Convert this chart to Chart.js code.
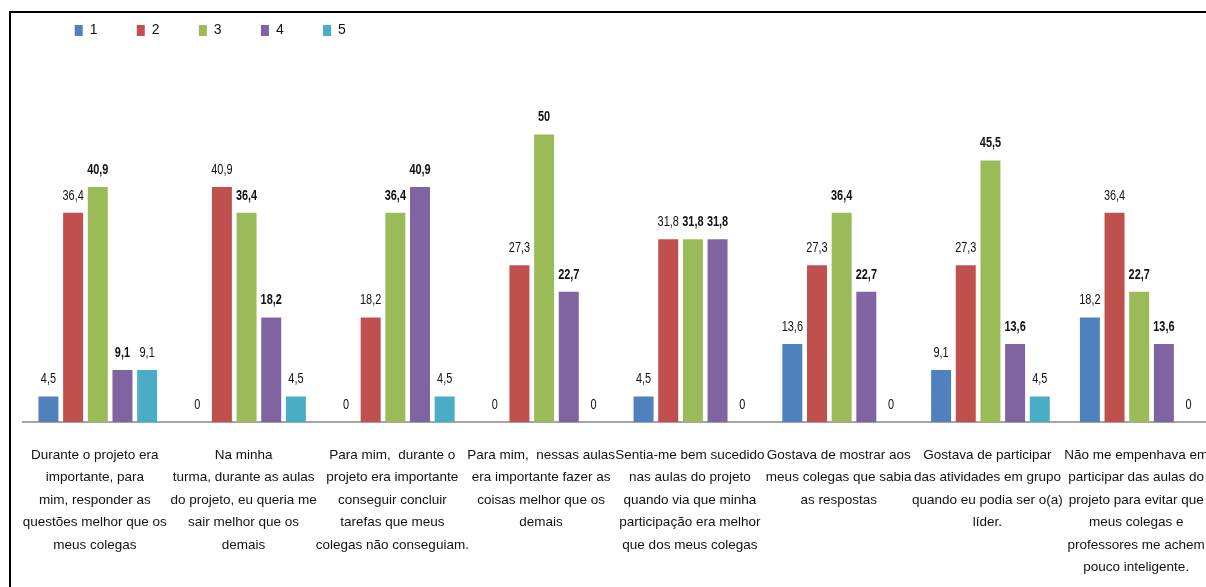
<!DOCTYPE html>
<html>
<head>
<meta charset="utf-8">
<script src="https://cdn.jsdelivr.net/npm/chart.js@4.4.1/dist/chart.umd.min.js"></script>
<style>
  html, body { margin: 0; padding: 0; background: #ffffff; overflow: hidden; width: 1206px; height: 587px; }
  #frame { position: absolute; left: 9px; top: 11px; width: 1400px; height: 800px; border-left: 2px solid #000; border-top: 2px solid #000; }
  #c { position: absolute; left: 0; top: 0; }
</style>
</head>
<body>
<div id="frame"></div>
<canvas id="c" width="1230" height="587"></canvas>
<script>
const categories = [
  ["Durante o projeto era", "importante, para", "mim, responder as", "questões melhor que os", "meus colegas"],
  ["Na minha", "turma, durante as aulas", "do projeto, eu queria me", "sair melhor que os", "demais"],
  ["Para mim,  durante o", "projeto era importante", "conseguir concluir", "tarefas que meus", "colegas não conseguiam."],
  ["Para mim,  nessas aulas", "era importante fazer as", "coisas melhor que os", "demais"],
  ["Sentia-me bem sucedido", "nas aulas do projeto", "quando via que minha", "participação era melhor", "que dos meus colegas"],
  ["Gostava de mostrar aos", "meus colegas que sabia", "as respostas"],
  ["Gostava de participar", "das atividades em grupo", "quando eu podia ser o(a)", "líder."],
  ["Não me empenhava em", "participar das aulas do", "projeto para evitar que", "meus colegas e", "professores me achem", "pouco inteligente."]
];
const seriesNames = ["1", "2", "3", "4", "5"];
const series1 = [4.5, 0, 0, 0, 4.5, 13.6, 9.1, 18.2];
const series2 = [36.4, 40.9, 18.2, 27.3, 31.8, 27.3, 27.3, 36.4];
const series3 = [40.9, 36.4, 36.4, 50, 31.8, 36.4, 45.5, 22.7];
const series4 = [9.1, 18.2, 40.9, 22.7, 31.8, 22.7, 13.6, 13.6];
const series5 = [9.1, 4.5, 4.5, 0, 0, 0, 4.5, 0];
const seriesColors = ["#4F81BD", "#C0504D", "#9BBB59", "#8064A2", "#4BACC6"];
const labelWeights = ["normal", "normal", "bold", "bold", "normal"];

const FONT = "'Liberation Sans', Arial, sans-serif";
const allSeries = [series1, series2, series3, series4, series5];

const valueLabels = {
  id: 'valueLabels',
  afterDatasetsDraw(chart) {
    const ctx = chart.ctx;
    const sx = 0.78;
    chart.data.datasets.forEach((ds, di) => {
      const meta = chart.getDatasetMeta(di);
      meta.data.forEach((bar, i) => {
        const v = ds.data[i];
        const txt = String(v).replace('.', ',');
        ctx.save();
        ctx.font = labelWeights[di] + ' 14px ' + FONT;
        ctx.textAlign = 'center';
        ctx.textBaseline = 'middle';
        ctx.fillStyle = '#111111';
        ctx.translate(bar.x, bar.y - 17);
        ctx.scale(sx, 1);
        ctx.fillText(txt, 0, 0);
        ctx.restore();
      });
    });
  }
};

const legendPlacer = {
  id: 'legendPlacer',
  afterLayout(chart) {
    const lg = chart.legend;
    if (!lg) return;
    const pad = lg.options.labels.padding;
    lg.left = 74.7 - pad;
    lg.top = 23.5 - pad;
  }
};

new Chart(document.getElementById('c'), {
  type: 'bar',
  data: {
    labels: categories,
    datasets: allSeries.map((s, i) => ({
      label: seriesNames[i],
      data: s,
      backgroundColor: seriesColors[i],
      borderWidth: 0,
      barPercentage: 0.81,
      categoryPercentage: 0.829
    }))
  },
  options: {
    responsive: false,
    animation: false,
    devicePixelRatio: 1,
    layout: { padding: { left: 23.4, right: 16.4, top: 13.7, bottom: 8.2 } },
    plugins: {
      tooltip: { enabled: false },
      legend: {
        position: 'top',
        align: 'start',
        labels: {
          boxWidth: 8,
          boxHeight: 11,
          padding: 39.3,
          color: '#111111',
          font: { family: FONT, size: 14 }
        }
      }
    },
    scales: {
      x: {
        grid: { display: true, drawOnChartArea: false, drawTicks: true, tickLength: 21.5, color: 'rgba(0,0,0,0)' },
        border: { display: true, color: '#A5A5A5', width: 2 },
        ticks: {
          autoSkip: false,
          maxRotation: 0,
          minRotation: 0,
          padding: 0,
          labelOffset: -3,
          color: '#111111',
          font: { family: FONT, size: 13.5, lineHeight: '22.5px' }
        }
      },
      y: {
        display: false,
        min: 0,
        max: 60
      }
    }
  },
  plugins: [valueLabels, legendPlacer]
});
</script>
</body>
</html>
